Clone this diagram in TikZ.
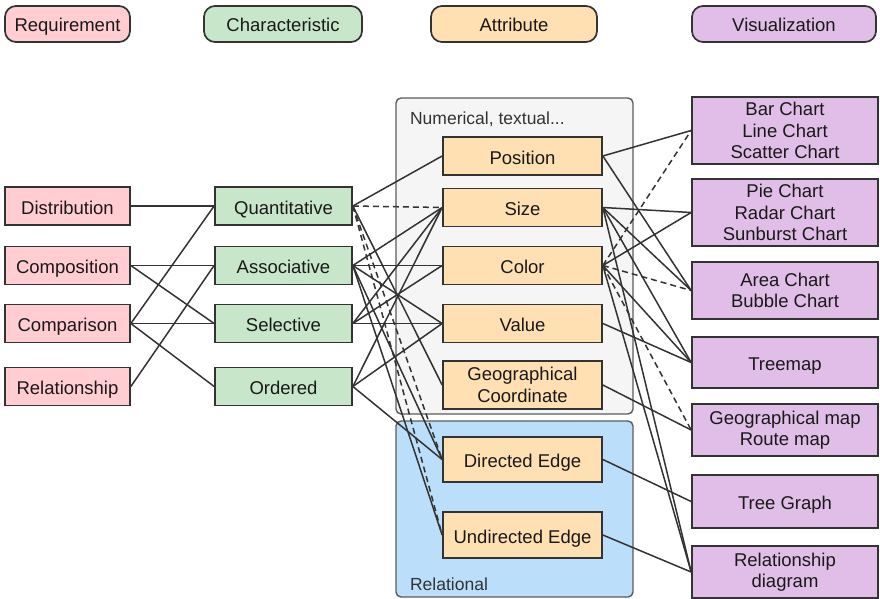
\documentclass[tikz,border=0pt]{standalone}
\usepackage{fontspec}
\setmainfont{Liberation Sans}
\usetikzlibrary{positioning}

\definecolor{reqfill}{HTML}{FFCDD2}
\definecolor{chrfill}{HTML}{C8E6C9}
\definecolor{attfill}{HTML}{FFE0B2}
\definecolor{visfill}{HTML}{E1BEE7}
\definecolor{numfill}{HTML}{F5F5F5}
\definecolor{relfill}{HTML}{BBDEFB}
\definecolor{ink}{HTML}{333333}

\begin{document}
\begin{tikzpicture}[x=1pt,y=-1pt,color=ink,line width=1.5pt,
                    font=\fontsize{18.5}{21.5}\selectfont,node distance=216pt]

  \tikzstyle{box}=[rectangle,draw=ink,text=black!90,line width=1.7pt,align=center,inner sep=0pt]
  % tall strut sets a one-line label a little low in its box
  \tikzstyle{one}=[execute at begin node={\rule[-5pt]{0pt}{26pt}}]
  \tikzstyle{head}=[box,one,rounded corners=11pt,minimum height=36pt]
  \tikzstyle{req}=[box,one,fill=reqfill,minimum width=125pt,minimum height=38pt]
  \tikzstyle{chr}=[box,one,fill=chrfill,minimum width=137pt,minimum height=38pt]
  \tikzstyle{att}=[box,fill=attfill,minimum width=159pt,minimum height=38pt]
  \tikzstyle{vis}=[box,fill=visfill,minimum width=186pt,minimum height=52pt]
  \tikzstyle{panel}=[draw=ink!80,line width=1.4pt,rounded corners=5pt]
  \tikzstyle{weak}=[dash pattern=on 6pt off 4pt]

  \useasboundingbox (0,0) rectangle (880,599);

  % column headers
  \node[head,fill=reqfill,minimum width=125pt] (hreq) at (67.5,24)  {Requirement};
  \node[head,fill=chrfill,minimum width=158pt] (hchr) at (283,24)   {Characteristic};
  \node[head,fill=attfill,minimum width=166pt] (hatt) at (514,24)   {Attribute};
  \node[head,fill=visfill,minimum width=184pt] (hvis) at (784,24)   {Visualization};

  % attribute groups
  \draw[panel,fill=numfill] (396,98) rectangle (633,414);
  \node[anchor=west,text=black!80,font=\fontsize{17.5}{20}\selectfont] (numlab) at (406,119) {Numerical, textual...};
  \draw[panel,fill=relfill] (396,421) rectangle (633,597);
  \node[anchor=west,text=black!80,font=\fontsize{17.5}{20}\selectfont] (rellab) at (406,584) {Relational};

  % requirements
  \node[req] (dist) at (67.5,206)   {Distribution};
  \node[req] (comp) at (67.5,265.5) {Composition};
  \node[req] (cmpr) at (67.5,323.5) {Comparison};
  \node[req] (rel)  at (67.5,386.5) {Relationship};

  % characteristics
  \node[chr] (quant) [right of=dist] {Quantitative};
  \node[chr] (assoc) [right of=comp] {Associative};
  \node[chr] (sel)   [right of=cmpr] {Selective};
  \node[chr] (ord)   [right of=rel]  {Ordered};

  % attributes
  \node[att,one] (pos)   at (522.5,156)   {Position};
  \node[att,one] (size)  at (522.5,207.5) {Size};
  \node[att,one] (color) at (522.5,265.5) {Color};
  \node[att,one] (value) at (522.5,323.5) {Value};
  \node[att,minimum height=48pt] (geo) at (522.5,385) {Geographical\\Coordinate};
  \node[att,one,minimum height=45pt] (dir)   at (522.5,459.5) {Directed Edge};
  \node[att,one,minimum height=46pt] (undir) at (522.5,535)   {Undirected Edge};

  % visualizations
  \node[vis,minimum height=67pt] (bar)  at (785,130.5) {Bar Chart\\Line Chart\\Scatter Chart};
  \node[vis,minimum height=67pt] (pie)  at (785,212.5) {Pie Chart\\Radar Chart\\Sunburst Chart};
  \node[vis,minimum height=57pt] (area) at (785,290.5) {Area Chart\\Bubble Chart};
  \node[vis,one,minimum height=51pt] (tree) at (785,362.5) {Treemap};
  \node[vis] (map)   at (785,430)   {Geographical map\\Route map};
  \node[vis,one,minimum height=53pt] (graph) at (785,501.5) {Tree Graph};
  \node[vis] (diag)  at (785,572)   {Relationship\\diagram};

  % requirement -> characteristic
  \path (dist.east) edge (quant.west)
        (comp.east) edge (assoc.west)
        (comp.east) edge (sel.west)
        (cmpr.east) edge (quant.west)
        (cmpr.east) edge (sel.west)
        (cmpr.east) edge (ord.west)
        (rel.east)  edge (assoc.west);

  % characteristic -> attribute
  \path (quant.east) edge (pos.west)
        (quant.east) edge[weak] (size.west)
        (quant.east) edge (geo.west)
        (quant.east) edge[weak] (dir.west)
        (quant.east) edge[weak] (undir.west)
        (assoc.east) edge (size.west)
        (assoc.east) edge (color.west)
        (assoc.east) edge (value.west)
        (assoc.east) edge (dir.west)
        (assoc.east) edge (undir.west)
        (sel.east)   edge (size.west)
        (sel.east)   edge (color.west)
        (sel.east)   edge (value.west)
        (ord.east)   edge (size.west)
        (ord.east)   edge (value.west)
        (ord.east)   edge (dir.west);

  % attribute -> visualization
  \path (pos.east)   edge (bar.west)
        (pos.east)   edge (area.west)
        (size.east)  edge (pie.west)
        (size.east)  edge (area.west)
        (size.east)  edge (tree.west)
        (size.east)  edge (diag.west)
        (color.east) edge[weak] (bar.west)
        (color.east) edge (pie.west)
        (color.east) edge[weak] (area.west)
        (color.east) edge (tree.west)
        (color.east) edge[weak] (map.west)
        (color.east) edge (diag.west)
        (value.east) edge (tree.west)
        (geo.east)   edge (map.west)
        (dir.east)   edge (graph.west)
        (undir.east) edge (diag.west);
\end{tikzpicture}
\end{document}
